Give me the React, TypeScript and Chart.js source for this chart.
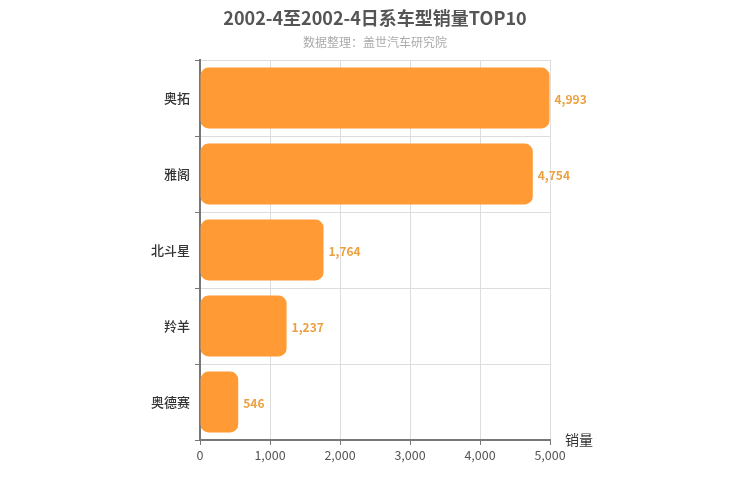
import React, { useEffect, useRef } from "react";
import { Chart, registerables } from "chart.js";

Chart.register(...registerables);

const categories = ["奥拓", "雅阁", "北斗星", "羚羊", "奥德赛"];
const sales = [4993, 4754, 1764, 1237, 546];
const xTicks = [0, 1000, 2000, 3000, 4000, 5000];
const titleText = "2002-4至2002-4日系车型销量TOP10";
const subtitleText = "数据整理：盖世汽车研究院";
const axisName = "销量";

const FONT = "'Noto Sans CJK SC', 'Noto Sans', sans-serif";

export default function App() {
  const ref = useRef<HTMLCanvasElement | null>(null);
  useEffect(() => {
    const canvas = ref.current;
    if (!canvas) return;
    const deco = {
      id: "deco",
      afterDraw(chart: any) {
        const ctx = chart.ctx;
        ctx.save();
        ctx.textAlign = "center";
        ctx.textBaseline = "middle";
        ctx.fillStyle = "#555555";
        ctx.font = `bold 18px ${FONT}`;
        ctx.fillText(titleText, 375, 18);
        ctx.fillStyle = "#aaaaaa";
        ctx.font = `12px ${FONT}`;
        ctx.fillText(subtitleText, 375, 42);
        ctx.textAlign = "left";
        ctx.fillStyle = "#333333";
        ctx.font = `14px ${FONT}`;
        ctx.fillText(axisName, 565, 440);
        ctx.restore();
      },
      afterDatasetsDraw(chart: any) {
        const ctx = chart.ctx;
        const meta = chart.getDatasetMeta(0);
        ctx.save();
        ctx.fillStyle = "#eda040";
        ctx.font = `600 12px ${FONT}`;
        ctx.textAlign = "left";
        ctx.textBaseline = "middle";
        meta.data.forEach((bar: any, i: number) => {
          ctx.fillText(sales[i].toLocaleString("en-US"), bar.x + 5, bar.y + 1);
        });
        ctx.restore();
      },
    };
    const chart = new Chart(canvas, {
      type: "bar",
      data: {
        labels: categories,
        datasets: [
          {
            data: sales,
            backgroundColor: "#ff9a34",
            borderRadius: 8,
            borderSkipped: false,
            barPercentage: 0.8,
            categoryPercentage: 1,
          },
        ],
      },
      options: {
        indexAxis: "y",
        animation: false,
        responsive: false,
        layout: { padding: { top: 60, right: 200, left: 0, bottom: 0 } },
        plugins: {
          legend: { display: false },
          title: { display: false },
          tooltip: { enabled: false },
        },
        scales: {
          x: {
            min: 0,
            max: 5000,
            afterFit: (s: any) => {
              s.height = 60;
            },
            afterBuildTicks: (s: any) => {
              s.ticks = xTicks.map((v) => ({ value: v }));
            },
            ticks: {
              color: "#555555",
              font: { size: 12.5, family: FONT },
              padding: 3,
              callback: (v: any) => Number(v).toLocaleString("en-US"),
            },
            grid: { color: "#dddddd", tickLength: 5, tickColor: "#777777" },
            border: { color: "#777777", width: 2 },
          },
          y: {
            afterFit: (s: any) => {
              s.width = 200;
            },
            ticks: {
              color: "#333333",
              font: { size: 13, family: FONT, weight: "500" },
              padding: 5,
            },
            grid: { color: "#dddddd", tickLength: 5, tickColor: "#777777", offset: true },
            border: { color: "#777777", width: 2 },
          },
        },
      },
      plugins: [deco],
    });
    return () => chart.destroy();
  }, []);
  return (
    <div style={{ position: "fixed", left: 0, top: 0, width: 750, height: 500, background: "#fff" }}>
      <canvas ref={ref} width={750} height={500} style={{ width: 750, height: 500 }} />
    </div>
  );
}
